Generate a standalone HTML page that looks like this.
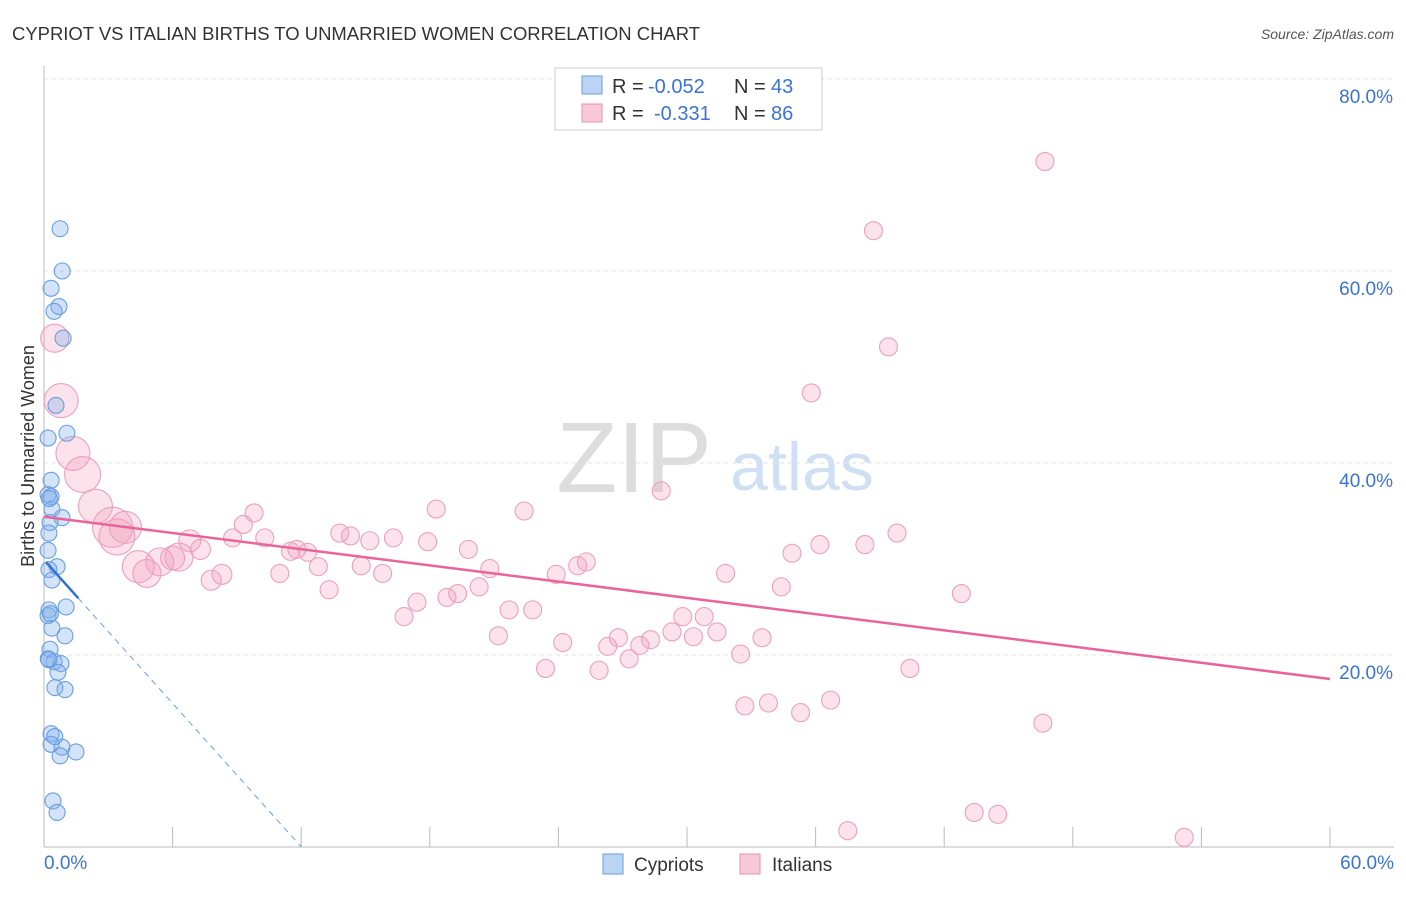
<!DOCTYPE html>
<html><head><meta charset="utf-8"><style>
body{margin:0;background:#fff;font-family:"Liberation Sans",sans-serif;}
svg text{font-family:"Liberation Sans",sans-serif;}
</style></head><body>
<svg id="c" width="1406" height="892">
<text x="12" y="40" font-size="18" fill="#333" textLength="688" lengthAdjust="spacingAndGlyphs">CYPRIOT VS ITALIAN BIRTHS TO UNMARRIED WOMEN CORRELATION CHART</text>
<text x="1394" y="39" font-size="14" fill="#555" font-style="italic" text-anchor="end">Source: ZipAtlas.com</text>
<text x="634" y="492" font-size="100" fill="#ddd" font-family="Liberation Serif" text-anchor="middle">ZIP</text>
<text x="802" y="490" font-size="68" fill="#cfe0f5" text-anchor="middle">atlas</text>
<g id="grid"></g><g id="pts"></g><g id="lines"></g>
<text transform="translate(34,456) rotate(-90)" font-size="18" fill="#333" text-anchor="middle">Births to Unmarried Women</text>
<text x="44" y="869" font-size="19" fill="#3b73d4">0.0%</text>
<text x="1394" y="869" font-size="19" fill="#3b73d4" text-anchor="end">60.0%</text>
<g>
<rect x="555" y="68" width="267" height="62" fill="#fff" stroke="#ccc"/>
<rect x="582" y="76" width="20" height="18" fill="#bcd4f4" stroke="#6a9ee0"/>
<rect x="582" y="104" width="20" height="18" fill="#f8c8d8" stroke="#e890b0"/>
<text x="612" y="93" font-size="20" fill="#333">R = <tspan x="648" fill="#3b73d4">-0.052</tspan><tspan x="734">N = </tspan><tspan x="771" fill="#3b73d4">43</tspan></text>
<text x="612" y="120" font-size="20" fill="#333">R = <tspan x="654" fill="#3b73d4">-0.331</tspan><tspan x="734">N = </tspan><tspan x="771" fill="#3b73d4">86</tspan></text>
</g>
<g>
<rect x="603" y="854" width="20" height="20" fill="#bcd4f4" stroke="#6a9ee0"/>
<text x="634" y="871" font-size="19" fill="#333">Cypriots</text>
<rect x="740" y="854" width="20" height="20" fill="#f8c8d8" stroke="#e890b0"/>
<text x="772" y="871" font-size="19" fill="#333">Italians</text>
</g>
</svg>
<script>
const yTicks=[20,40,60,80];
const xTicks=[0,6,12,18,24,30,36,42,48,54,60];
const blueX=[0.75,0.85,0.33,0.7,0.47,0.89,0.56,1.07,0.19,0.33,0.19,0.33,0.37,0.84,0.28,0.23,0.19,0.61,0.23,0.37,1.03,0.23,0.19,0.37,0.98,0.28,0.23,0.47,0.79,0.65,0.51,0.98,0.33,0.33,0.84,1.49,0.75,0.42,0.61,0.2,0.3,0.25,0.5];
const blueY=[64.4,60.0,58.2,56.3,55.8,53.0,46.0,43.1,42.6,38.2,36.7,36.5,35.2,34.3,33.8,32.7,30.9,29.2,28.9,27.8,25.0,24.7,24.1,22.8,22.0,20.6,19.5,19.3,19.1,18.2,16.6,16.4,11.8,10.7,10.4,9.9,9.5,4.8,3.6,19.6,24.3,36.3,11.5];
const pinkX=[46.7,38.7,39.4,35.8,28.8,0.5,0.8,1.35,1.8,2.4,3.2,3.4,3.8,4.4,4.8,5.4,6.0,6.3,6.8,7.3,7.8,8.3,8.8,9.3,9.8,10.3,11.0,11.5,11.8,12.3,12.8,13.3,13.8,14.3,14.8,15.2,15.8,16.3,16.8,17.4,17.9,18.3,18.8,19.3,19.8,20.3,20.8,21.2,21.7,22.4,22.8,23.4,23.9,24.2,24.9,25.3,25.9,26.3,26.8,27.3,27.8,28.3,29.3,29.8,30.3,30.8,31.4,31.8,32.5,32.7,33.5,33.8,34.4,34.9,35.3,36.2,36.7,37.5,38.3,39.8,40.4,42.8,43.4,44.5,46.6,53.2];
const pinkY=[71.4,64.2,52.1,47.3,37.1,53.0,46.5,41.0,38.8,35.5,33.3,32.3,33.3,29.2,28.5,29.7,30.1,30.2,31.9,31.0,27.8,28.4,32.2,33.6,34.8,32.2,28.5,30.8,31.0,30.7,29.2,26.8,32.7,32.4,29.3,31.9,28.5,32.2,24.0,25.5,31.8,35.2,26.0,26.4,31.0,27.1,29.0,22.0,24.7,35.0,24.7,18.6,28.4,21.3,29.3,29.7,18.4,20.9,21.8,19.6,21.0,21.6,22.4,24.0,21.9,24.0,22.4,28.5,20.1,14.7,21.8,15.0,27.1,30.6,14.0,31.5,15.3,1.7,31.5,32.7,18.6,26.4,3.6,3.4,12.9,1.0];
const pinkR=[9,9,9,9,9,14,17,17,18,17,20,18,16,16,14,14,12,14,11,10,10,10,9,9,9,9,9,9,9,9,9,9,9,9,9,9,9,9,9,9,9,9,9,9,9,9,9,9,9,9,9,9,9,9,9,9,9,9,9,9,9,9,9,9,9,9,9,9,9,9,9,9,9,9,9,9,9,9,9,9,9,9,9,9,9,9];
const pinkTrend=[34.4,17.5];
const blueTrend=[29.9,-2.49];
const NS='http://www.w3.org/2000/svg';
const xs=v=>44+v/60*1286, ys=v=>847-v*9.6;
function mk(t,a,p){const e=document.createElementNS(NS,t);for(const k in a)e.setAttribute(k,a[k]);p.appendChild(e);return e;}
const g=document.getElementById('grid');
yTicks.forEach(t=>{const l=mk('line',{x1:44,x2:1394,y1:ys(t),y2:ys(t),stroke:'#e2e2e2','stroke-dasharray':'4,4'},g);


const tx=mk('text',{x:1393,y:ys(t)+24,'font-size':19,fill:'#3b73d4','text-anchor':'end'},g);tx.textContent=t.toFixed(1)+'%';

});
const ax=mk('line',{x1:44,x2:44,y1:66,y2:847,stroke:'#bbb'},g);


const bx=mk('line',{x1:44,x2:1394,y1:847,y2:847,stroke:'#bbb'},g);


xTicks.forEach(t=>{const l=mk('line',{x1:xs(t),x2:xs(t),y1:827,y2:847,stroke:'#bbb'},g);

});
const P=document.getElementById('pts');
pinkX.forEach((v,i)=>{const c=mk('circle',{cx:xs(v),cy:ys(pinkY[i]),r:pinkR[i],fill:'rgba(243,160,190,0.3)',stroke:'#eba0bd','stroke-width':1.1},P);

});
blueX.forEach((v,i)=>{const c=mk('circle',{cx:xs(v),cy:ys(blueY[i]),r:8,fill:'rgba(130,175,235,0.35)',stroke:'#6a9ee0','stroke-width':1.1},P);

});
const L=document.getElementById('lines');
const pt=mk('line',{x1:xs(0),y1:ys(pinkTrend[0]),x2:xs(60),y2:ys(pinkTrend[1]),stroke:'#e8649a','stroke-width':2.5},L);


const bf=x=>blueTrend[0]+blueTrend[1]*x;
const bd=mk('line',{x1:xs(1.6),y1:ys(bf(1.6)),x2:xs(12),y2:ys(bf(12)),stroke:'#6a9ee0','stroke-width':1,'stroke-dasharray':'6,5'},L);


const bs=mk('line',{x1:xs(0.1),y1:ys(bf(0.1)),x2:xs(1.6),y2:ys(bf(1.6)),stroke:'#2f6fd6','stroke-width':2.5},L);


</script>
</body></html>
